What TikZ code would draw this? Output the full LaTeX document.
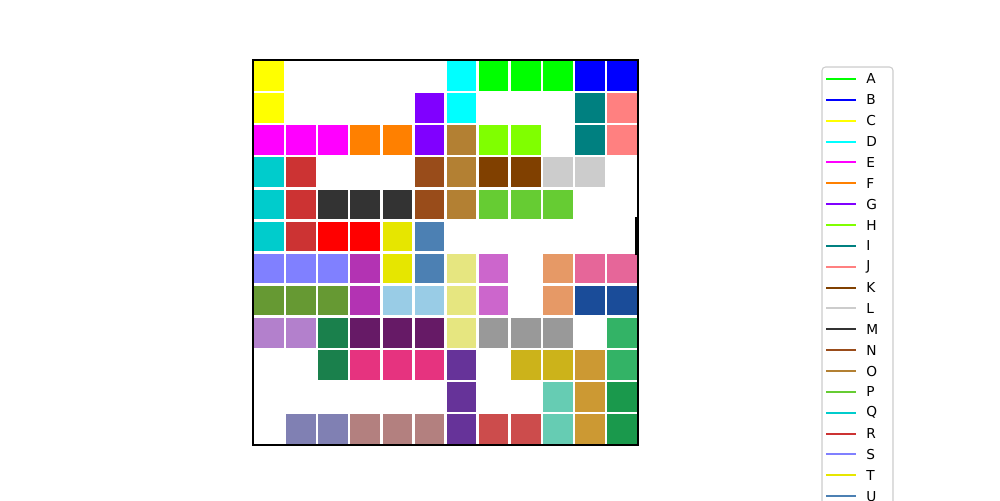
\documentclass[tikz,border=0pt]{standalone}
\usepackage{fontspec}
\setmainfont{DejaVu Sans}
\definecolor{cA}{HTML}{00FF00}\definecolor{cB}{HTML}{0000FF}\definecolor{cC}{HTML}{FFFF00}
\definecolor{cD}{HTML}{00FFFF}\definecolor{cE}{HTML}{FF00FF}\definecolor{cF}{HTML}{FF8000}
\definecolor{cG}{HTML}{8000FF}\definecolor{cH}{HTML}{80FF00}\definecolor{cI}{HTML}{008080}
\definecolor{cJ}{HTML}{FF8080}\definecolor{cK}{HTML}{804000}\definecolor{cL}{HTML}{CCCCCC}
\definecolor{cM}{HTML}{333333}\definecolor{cN}{HTML}{994C1A}\definecolor{cO}{HTML}{B38033}
\definecolor{cP}{HTML}{66CC33}\definecolor{cQ}{HTML}{00CCCC}\definecolor{cR}{HTML}{CC3333}
\definecolor{cS}{HTML}{8080FF}\definecolor{cT}{HTML}{E6E600}\definecolor{cU}{HTML}{4C80B3}
\definecolor{cred}{HTML}{FF0000}\definecolor{cpurp}{HTML}{B333B3}\definecolor{ckhaki}{HTML}{E6E680}
\definecolor{corchid}{HTML}{CC66CC}\definecolor{cpeach}{HTML}{E69966}\definecolor{cpink}{HTML}{E66699}
\definecolor{colive}{HTML}{669933}\definecolor{clblue}{HTML}{99CCE6}\definecolor{cdblue}{HTML}{1A4C99}
\definecolor{clav}{HTML}{B380CC}\definecolor{cdgreen}{HTML}{1A804C}\definecolor{cdpurp}{HTML}{661A66}
\definecolor{cgray}{HTML}{999999}\definecolor{cmgreen}{HTML}{33B366}\definecolor{crose}{HTML}{E6337F}
\definecolor{cpurpb}{HTML}{663399}\definecolor{cmustard}{HTML}{CCB31A}\definecolor{cgold}{HTML}{CC9933}
\definecolor{caqua}{HTML}{66CCB3}\definecolor{cgreenb}{HTML}{1A994C}\definecolor{cslate}{HTML}{8080B3}
\definecolor{cmauve}{HTML}{B3807F}\definecolor{cbrick}{HTML}{CC4C4C}
\begin{document}
\begin{tikzpicture}[x=0.02cm,y=-0.02cm,
  cellbox/.style={fill=#1,draw=white,line width=1.4pt},
  legline/.style={draw=#1,line width=1.15pt},
  legtext/.style={anchor=west,font=\fontsize{7.8}{9}\selectfont,inner sep=0pt}]
\useasboundingbox (0,0) rectangle (1000,500);
\begin{scope}
\clip (0,0) rectangle (1000,500);
\def\cw{32.083}
\foreach \r/\c/\col in {
0/0/cC,0/6/cD,0/7/cA,0/8/cA,0/9/cA,0/10/cB,0/11/cB,
1/0/cC,1/5/cG,1/6/cD,1/10/cI,1/11/cJ,
2/0/cE,2/1/cE,2/2/cE,2/3/cF,2/4/cF,2/5/cG,2/6/cO,2/7/cH,2/8/cH,2/10/cI,2/11/cJ,
3/0/cQ,3/1/cR,3/5/cN,3/6/cO,3/7/cK,3/8/cK,3/9/cL,3/10/cL,
4/0/cQ,4/1/cR,4/2/cM,4/3/cM,4/4/cM,4/5/cN,4/6/cO,4/7/cP,4/8/cP,4/9/cP,
5/0/cQ,5/1/cR,5/2/cred,5/3/cred,5/4/cT,5/5/cU,
6/0/cS,6/1/cS,6/2/cS,6/3/cpurp,6/4/cT,6/5/cU,6/6/ckhaki,6/7/corchid,6/9/cpeach,6/10/cpink,6/11/cpink,
7/0/colive,7/1/colive,7/2/colive,7/3/cpurp,7/4/clblue,7/5/clblue,7/6/ckhaki,7/7/corchid,7/9/cpeach,7/10/cdblue,7/11/cdblue,
8/0/clav,8/1/clav,8/2/cdgreen,8/3/cdpurp,8/4/cdpurp,8/5/cdpurp,8/6/ckhaki,8/7/cgray,8/8/cgray,8/9/cgray,8/11/cmgreen,
9/2/cdgreen,9/3/crose,9/4/crose,9/5/crose,9/6/cpurpb,9/8/cmustard,9/9/cmustard,9/10/cgold,9/11/cmgreen,
10/6/cpurpb,10/9/caqua,10/10/cgold,10/11/cgreenb,
11/1/cslate,11/2/cslate,11/3/cmauve,11/4/cmauve,11/5/cmauve,11/6/cpurpb,11/7/cbrick,11/8/cbrick,11/9/caqua,11/10/cgold,11/11/cgreenb}
{\path[cellbox=\col] ({253+\c*\cw},{60+\r*\cw}) rectangle ++(\cw,\cw);}
\fill[black] (635,217) rectangle (638.5,255);
\draw[black,line width=0.6pt] (253,60) rectangle (638,445);
% legend
\draw[draw=black!20,line width=0.6pt,fill=white,rounded corners=2pt] (822,67) rectangle (893,540);
\foreach \i/\n/\col in {0/A/cA,1/B/cB,2/C/cC,3/D/cD,4/E/cE,5/F/cF,6/G/cG,7/H/cH,8/I/cI,9/J/cJ,10/K/cK,11/L/cL,12/M/cM,13/N/cN,14/O/cO,15/P/cP,16/Q/cQ,17/R/cR,18/S/cS,19/T/cT,20/U/cU}{
  \coordinate (l\n) at (826,{79+\i*20.86});
  \draw[legline=\col] (l\n) -- ++(30,0);
  \node[legtext] (t\n) at (866,{79+\i*20.86}) {\n};
}
\end{scope}
\end{tikzpicture}
\end{document}
